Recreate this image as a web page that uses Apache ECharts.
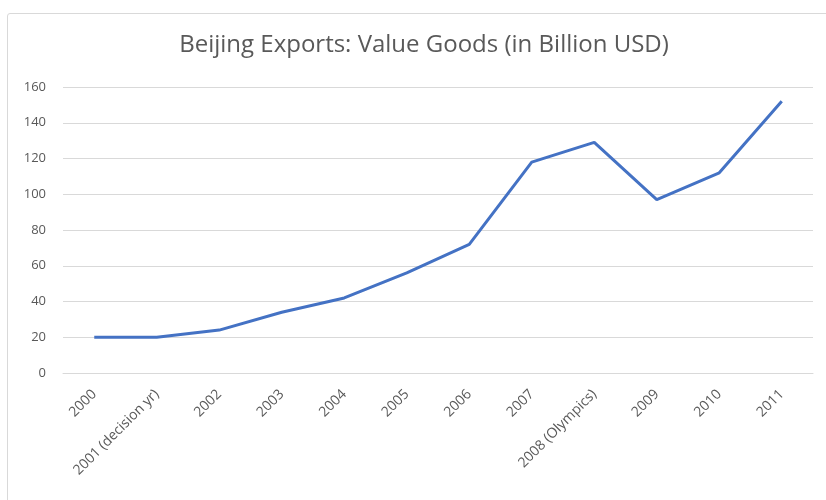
<!DOCTYPE html>
<html>
<head>
<meta charset="utf-8">
<script src="https://cdn.jsdelivr.net/npm/echarts@6/dist/echarts.min.js"></script>
<style>
  html, body { margin: 0; padding: 0; background: #ffffff; }
  #frame { position: absolute; left: 7px; top: 13px; width: 830px; height: 500px;
           border: 1px solid #d9d9d9; border-radius: 3px; box-sizing: border-box; }
  #chart { position: absolute; left: 0; top: 0; width: 826px; height: 500px; }
</style>
</head>
<body>
<div id="frame"></div>
<div id="chart"></div>
<script>
// Beijing export value of goods, billions of USD
const years = ['2000', '2001 (decision yr)', '2002', '2003', '2004', '2005',
               '2006', '2007', '2008 (Olympics)', '2009', '2010', '2011'];
const exportValues = [20, 20, 24, 34, 42, 56, 72, 118, 129, 97, 112, 152];
const yTicks = { min: 0, max: 160, interval: 20 };

const textColor = '#595959';
const fontFamily = '"Open Sans", "Liberation Sans", sans-serif';

const chart = echarts.init(document.getElementById('chart'));
chart.setOption({
  animation: false,
  title: {
    text: 'Beijing Exports: Value Goods (in Billion USD)',
    left: 419,
    textAlign: 'center',
    top: 28,
    textStyle: { color: textColor, fontSize: 24, fontWeight: 'normal', fontFamily: fontFamily }
  },
  grid: { left: 63, right: 13, top: 87, bottom: 127, containLabel: false },
  xAxis: {
    type: 'category',
    data: years,
    boundaryGap: true,
    axisLine: { show: true, lineStyle: { color: '#d9d9d9', width: 1 } },
    axisTick: { show: false },
    axisLabel: {
      rotate: 45,
      interval: 0,
      margin: 19,
      color: textColor,
      fontSize: 14,
      fontFamily: fontFamily
    }
  },
  yAxis: {
    type: 'value',
    min: yTicks.min,
    max: yTicks.max,
    interval: yTicks.interval,
    axisLine: { show: false },
    axisTick: { show: false },
    splitLine: { lineStyle: { color: '#d9d9d9', width: 1 } },
    axisLabel: { color: textColor, fontSize: 13, margin: 17, fontFamily: fontFamily }
  },
  series: [{
    type: 'line',
    data: exportValues,
    showSymbol: false,
    symbol: 'none',
    lineStyle: { color: '#4472c4', width: 3 },
    itemStyle: { color: '#4472c4' }
  }]
});
</script>
</body>
</html>
